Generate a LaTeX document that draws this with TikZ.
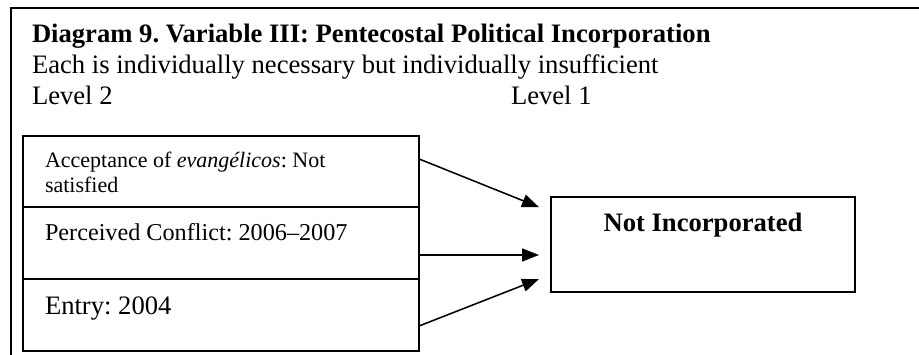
\documentclass[tikz,border=0pt]{standalone}
\usepackage{fontspec}
\setmainfont{Liberation Serif}
\usetikzlibrary{arrows.meta}
\frenchspacing

\begin{document}
\begin{tikzpicture}[
  x=0.4545pt, y=-0.4545pt,
  every node/.style={inner sep=0pt, outer sep=0pt},
  frame/.style={line width=0.8pt},
  cell/.style={draw, line width=0.8pt, minimum width=180pt},
  result/.style={draw, line width=0.8pt, minimum width=138.2pt, minimum height=43.2pt},
  txt/.style={anchor=base west, font=\fontsize{12.1}{13.9}\selectfont},
  small/.style={anchor=base west, align=left, font=\fontsize{10}{11.4}\selectfont},
  arrow/.style={-{Triangle[length=7.7pt, width=5.9pt]}, line width=0.7pt},
]
\useasboundingbox (0,0) rectangle (919,355);

% Page frame
\draw[frame] (919,8) -- (11,8) -- (11,355);

% Heading
\node[txt, font=\fontsize{12.1}{13.9}\selectfont\bfseries] (title) at (32,43)
  {Diagram 9. Variable III: Pentecostal Political Incorporation};
\node[txt] (sub) at (32,74) {Each is individually necessary but individually insufficient};
\node[txt] (lvltwo) at (32,105) {Level 2};
\node[txt] (lvlone) at (511,105) {Level 1};

% Level 2 conditions
\node[cell, minimum height=32.3pt] (acc) at (221,171.5) {};
\node[cell, minimum height=32.7pt] (conf) at (221,243) {};
\node[cell, minimum height=32.7pt] (entry) at (221,315) {};
% base of a two-line node sits on its last line
\node[small] (acctext) at (45,193) {Acceptance of \textit{evangélicos}: Not\\satisfied};
\node[small, font=\fontsize{11}{12.6}\selectfont] (conftext) at (45,241) {Perceived Conflict: 2006--2007};
\node[txt] (entrytext) at (45,315) {Entry: 2004};

% Level 1 outcome
\node[result] (res) at (703,244.5) {};
\node[txt, anchor=base, font=\fontsize{12.1}{13.9}\selectfont\bfseries] (restext) at (703,232) {Not Incorporated};

% Arrows
\draw[arrow] ([yshift=5.7pt]acc.east) -- ([xshift=-5.45pt, yshift=17pt]res.west);
\draw[arrow] ([yshift=-5.45pt]conf.east) -- ([xshift=-5.45pt, yshift=-4.77pt]res.west);
\draw[arrow] ([yshift=-5pt]entry.east) -- ([xshift=-5.45pt, yshift=-15.7pt]res.west);

\end{tikzpicture}
\end{document}
